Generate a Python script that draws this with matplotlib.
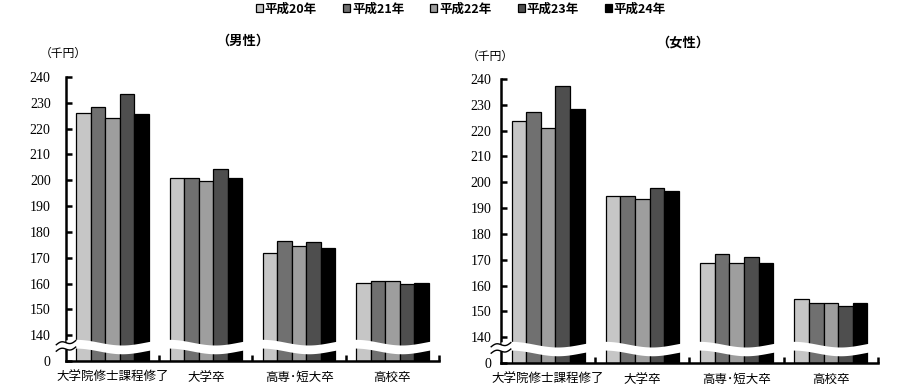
import matplotlib
matplotlib.use('Agg')
import matplotlib.pyplot as plt
import numpy as np
from matplotlib.transforms import blended_transform_factory

plt.rcParams['font.family'] = ['Noto Sans CJK JP', 'DejaVu Sans']

categories = ['大学院修士課程修了', '大学卒', '高専･短大卒', '高校卒']
years = ['平成20年', '平成21年', '平成22年', '平成23年', '平成24年']

male_h20 = [226.0, 200.8, 171.9, 160.3]
male_h21 = [228.3, 200.8, 176.4, 161.1]
male_h22 = [224.3, 199.8, 174.4, 161.1]
male_h23 = [233.5, 204.5, 176.0, 159.8]
male_h24 = [225.5, 201.0, 173.7, 160.4]

female_h20 = [223.7, 194.6, 168.7, 154.6]
female_h21 = [227.2, 194.6, 172.2, 153.2]
female_h22 = [221.2, 193.4, 168.7, 153.2]
female_h23 = [237.3, 197.9, 170.9, 151.9]
female_h24 = [228.2, 196.6, 168.7, 153.2]

yticks = [140, 150, 160, 170, 180, 190, 200, 210, 220, 230, 240]
colors = ['#c6c6c6', '#707070', '#9e9e9e', '#4e4e4e', '#000000']
BASE = 130  # position of the "0" label below the axis break

fig = plt.figure(figsize=(9.2, 3.84), dpi=100)
axL = fig.add_axes([66/920, 23/384, 373/920, 284/384])
axR = fig.add_axes([501/920, 21/384, 377/920, 284/384])


def draw_panel(ax, series, title, title_x, title_y, unit_x, unit_y, lab_pad):
    x = np.arange(len(categories))
    w = 0.155
    bars = []
    for j, vals in enumerate(series):
        b = ax.bar(x + (j - 2) * w, np.array(vals) - BASE, bottom=BASE, width=w,
                   color=colors[j], edgecolor='black', linewidth=0.9, zorder=2,
                   label=years[j])
        bars.append(b)
    ax.set_xlim(-0.5, 3.5)
    ax.set_ylim(BASE, 240)
    for s in ['top', 'right']:
        ax.spines[s].set_visible(False)
    for s in ['left', 'bottom']:
        ax.spines[s].set_linewidth(1.8)
    ax.set_yticks([BASE] + yticks)
    ax.set_yticklabels(['0'] + [str(t) for t in yticks],
                       family='Liberation Serif', fontsize=10)
    ax.tick_params(axis='y', direction='in', length=4, width=1.8, pad=lab_pad)
    ax.set_xticks(x)
    ax.set_xticklabels(categories, fontsize=9)
    ax.tick_params(axis='x', which='major', length=0, pad=7)
    ax.set_xticks([0.5, 1.5, 2.5, 3.5], minor=True)
    ax.tick_params(axis='x', which='minor', direction='in', length=4, width=1.8)

    # wavy white break band across the bars
    xx = np.linspace(-0.5, 3.5, 800)
    u = xx - np.floor(xx + 0.5) + 0.5
    center = 135.6 - 1.1 * np.cos(2 * np.pi * (u - 0.6))
    ax.fill_between(xx, center - 1.7, center + 1.7, color='white', lw=0, zorder=3)

    # axis break mark on the y axis
    tr = blended_transform_factory(ax.transAxes, ax.transData)
    t = np.linspace(0, 1, 60)
    xs = -0.026 + 0.052 * t
    wave = 0.7 * np.sin(2 * np.pi * t) + 1.6 * t
    upper = 136.3 + wave
    lower = 133.8 + wave
    ax.fill_between(xs, lower, upper, color='white', lw=0, zorder=4,
                    transform=tr, clip_on=False)
    ax.plot(xs, upper, color='black', lw=1.0, zorder=5, transform=tr, clip_on=False)
    ax.plot(xs, lower, color='black', lw=1.0, zorder=5, transform=tr, clip_on=False)

    fig.text(title_x / 920, 1 - title_y / 384, title, ha='center', va='center',
             fontsize=9.5, fontweight='bold')
    fig.text(unit_x / 920, 1 - unit_y / 384, '（千円）', ha='center', va='center',
             fontsize=8.5)
    return bars


barsL = draw_panel(axL, [male_h20, male_h21, male_h22, male_h23, male_h24],
                   '（男性）', 243, 41, 63, 53, 11)
barsR = draw_panel(axR, [female_h20, female_h21, female_h22, female_h23, female_h24],
                   '（女性）', 683, 43, 490, 56, 7)

fig.legend(handles=barsL, labels=years, loc='center', bbox_to_anchor=(461/920, 1 - 9/384),
           ncol=5, frameon=False, handlelength=0.55, handleheight=0.55,
           handletextpad=0.15, columnspacing=2.1,
           prop={'family': 'Noto Sans CJK JP', 'weight': 'bold', 'size': 9})

fig.savefig('out.png', dpi=100)
